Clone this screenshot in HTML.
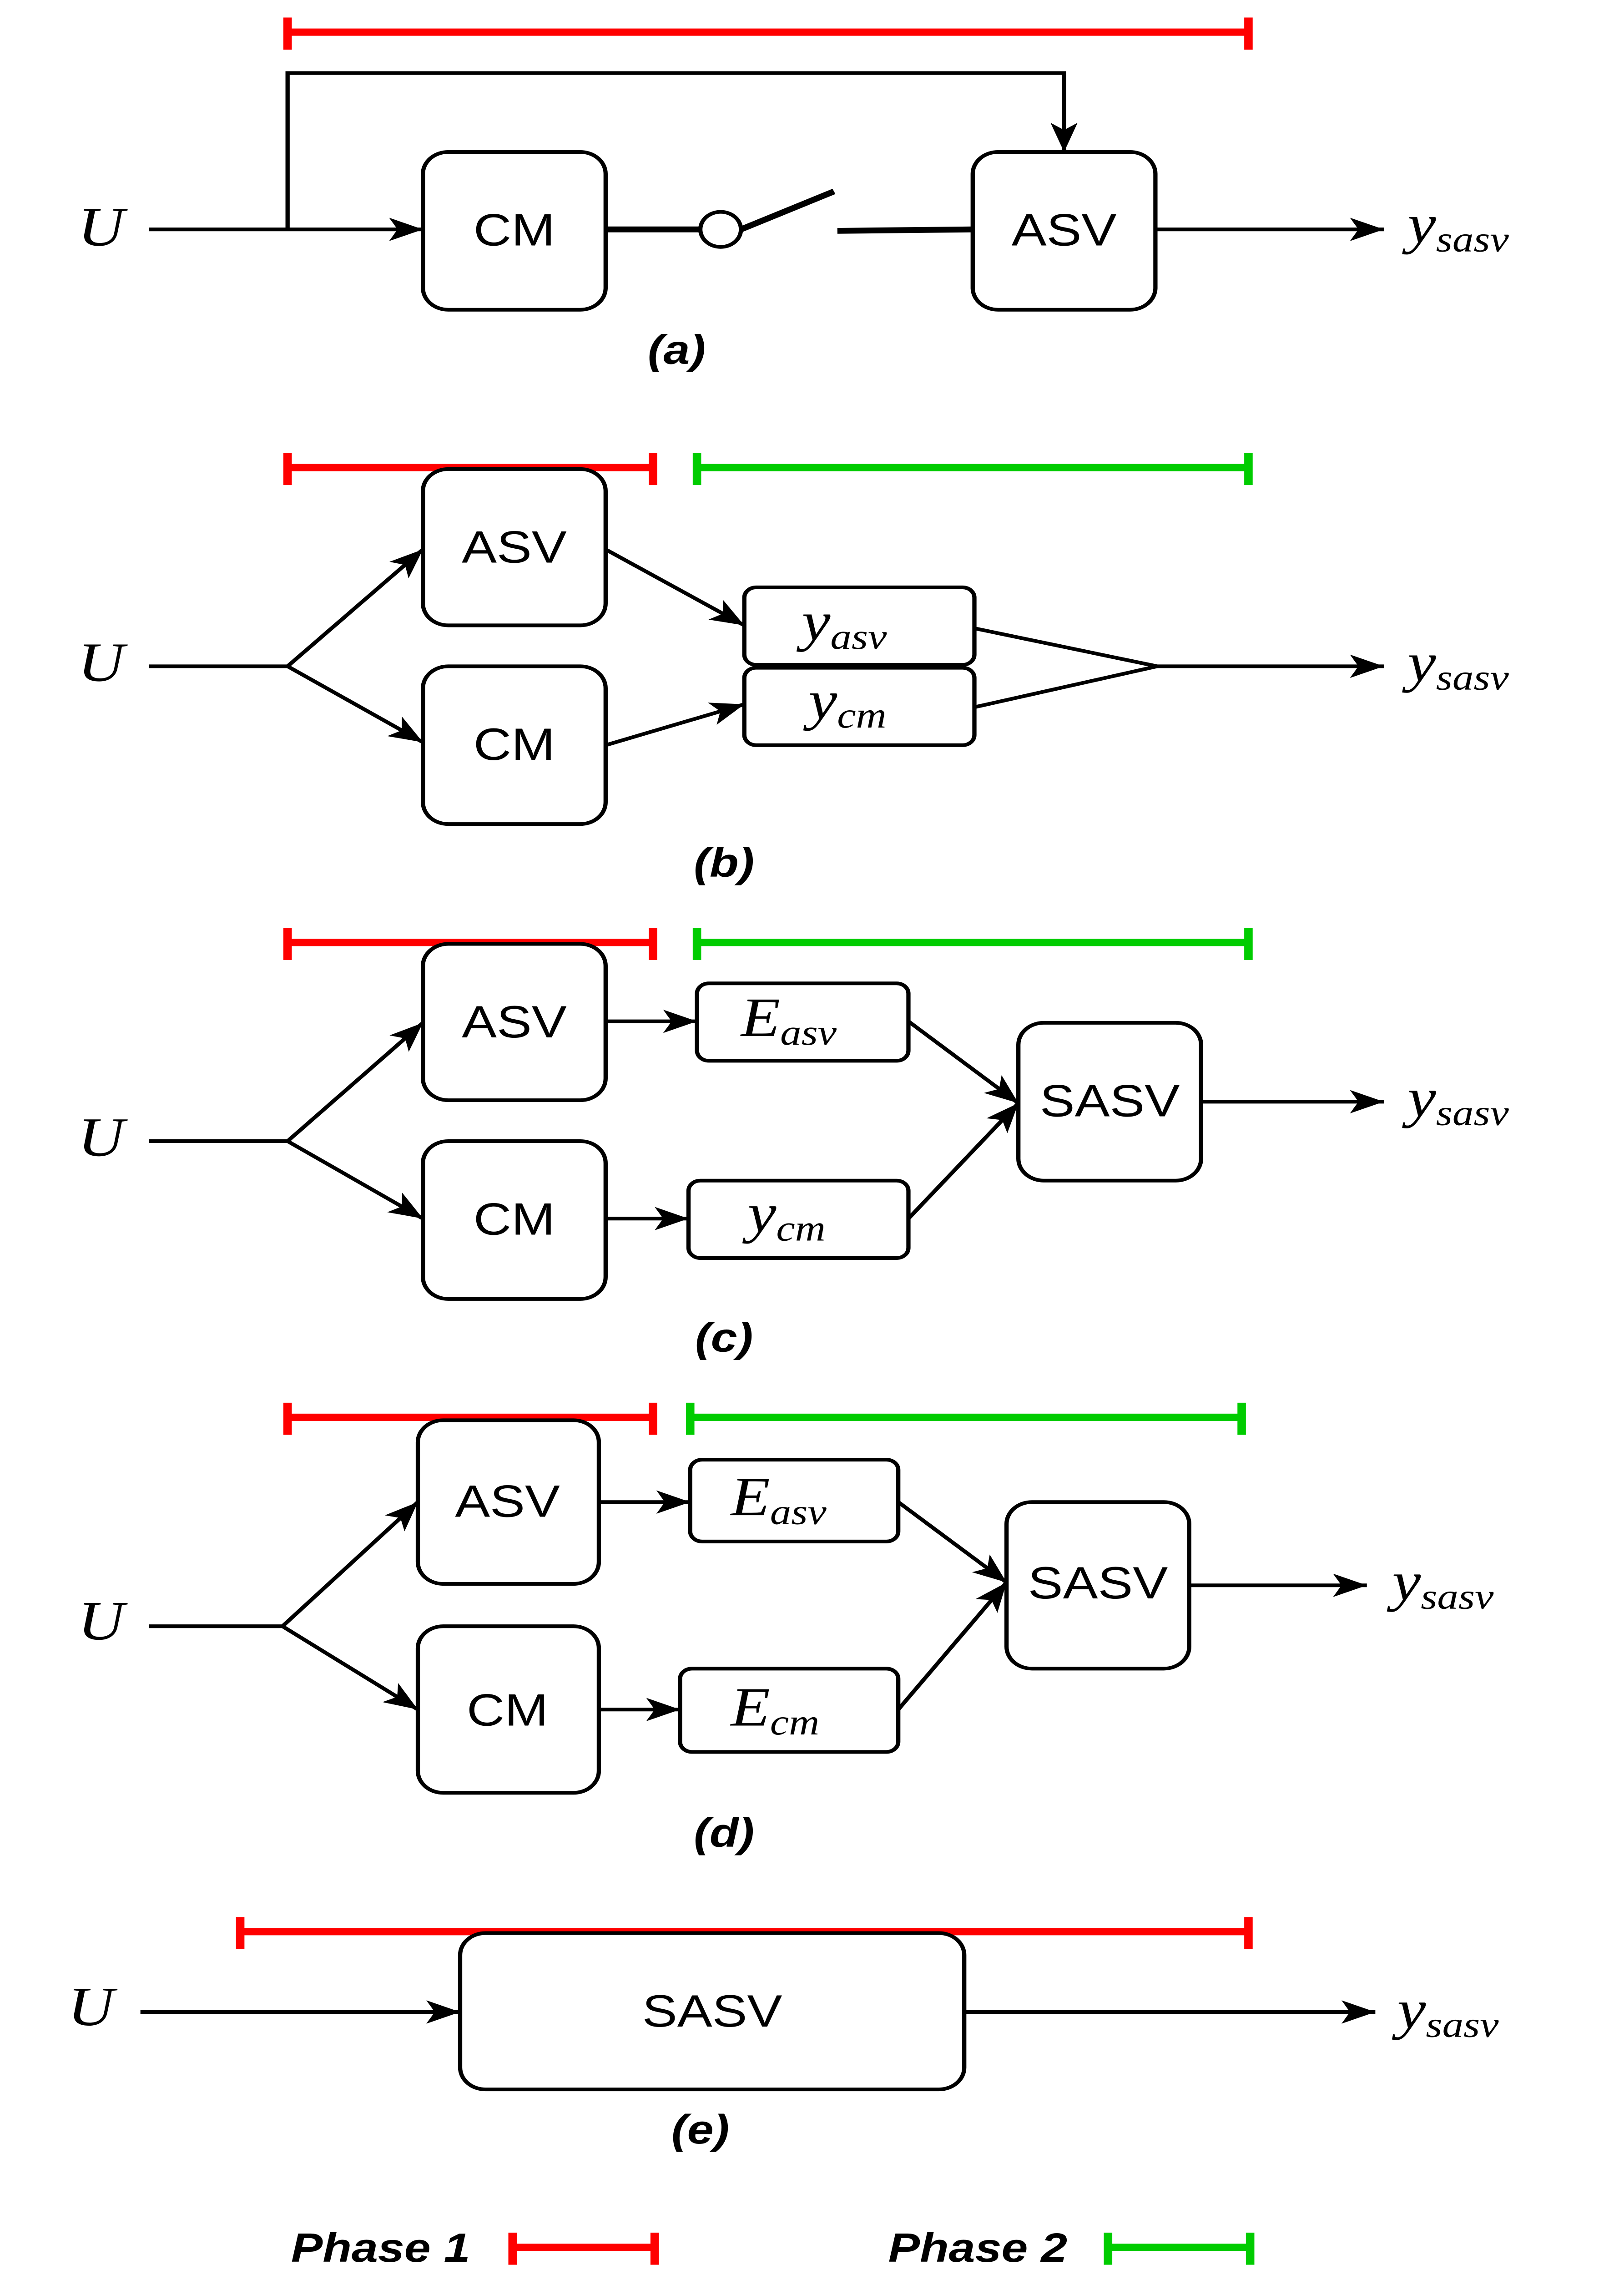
<!DOCTYPE html>
<html><head><meta charset="utf-8"><style>
html,body{margin:0;padding:0;background:#fff;width:100%;height:100%;overflow:hidden;}
svg{display:block;position:fixed;left:0;top:0;width:100vw;height:100vh;}
.b{fill:#fff;stroke:#000;stroke-width:2.5;}
.l{stroke:#000;stroke-width:2.5;fill:none;}
.lb{font-family:"Liberation Sans",sans-serif;font-size:31px;text-anchor:middle;}
.m{font-family:"Liberation Serif",serif;font-style:italic;font-size:38px;}
.s{font-size:25px;}
.cap{font-family:"Liberation Sans",sans-serif;font-size:28px;font-weight:bold;font-style:italic;text-anchor:middle;}
.r{stroke:#f00;stroke-width:5;fill:none;}
.g{stroke:#00cc00;stroke-width:5;fill:none;}
</style></head><body>
<svg viewBox="0 0 960 1557" preserveAspectRatio="none" xmlns="http://www.w3.org/2000/svg">
<defs>
<marker id="a" viewBox="0 0 20 16" refX="20" refY="8" markerWidth="20" markerHeight="16" markerUnits="userSpaceOnUse" orient="auto">
<path d="M0,0 L20,8 L0,16 L5,8 Z" fill="#000"/></marker>
</defs>
<rect width="960" height="1557" fill="#fff"/>

<!-- (a) -->
<path class="r" d="M170,22 H738 M170,12 V34 M738,12 V34"/>
<path class="l" d="M88,157 H250" marker-end="url(#a)"/>
<path class="l" d="M170,157 V50 H629 V104" marker-end="url(#a)"/>
<rect class="b" x="250" y="104" width="108" height="108" rx="15"/>
<text class="lb" x="304" y="168">CM</text>
<path d="M358,157 H414" stroke="#000" stroke-width="4"/>
<circle cx="426" cy="157" r="12" class="b"/>
<path d="M438,157 L493,131" stroke="#000" stroke-width="4"/>
<path d="M495,158 L575,157" stroke="#000" stroke-width="4"/>
<rect class="b" x="575" y="104" width="108" height="108" rx="15"/>
<text class="lb" x="629" y="168">ASV</text>
<path class="l" d="M683,157 H818" marker-end="url(#a)"/>
<text class="m" x="46" y="168">U</text>
<text class="m" x="832" y="166">y<tspan class="s" dy="6">sasv</tspan></text>
<text class="cap" x="400" y="249">(a)</text>

<!-- (b) -->
<path class="r" d="M170,320 H386 M170,310 V332 M386,310 V332"/>
<path class="g" d="M412,320 H738 M412,310 V332 M738,310 V332"/>
<path class="l" d="M88,456 H170 L250,376" marker-end="url(#a)"/>
<path class="l" d="M170,456 L250,508" marker-end="url(#a)"/>
<rect class="b" x="250" y="321" width="108" height="107" rx="15"/>
<text class="lb" x="304" y="385">ASV</text>
<rect class="b" x="250" y="456" width="108" height="108" rx="15"/>
<text class="lb" x="304" y="520">CM</text>
<path class="l" d="M358,376 L440,428" marker-end="url(#a)"/>
<path class="l" d="M358,510 L440,482" marker-end="url(#a)"/>
<rect class="b" x="440" y="402" width="136" height="53" rx="7"/>
<rect class="b" x="440" y="457" width="136" height="53" rx="7"/>
<text class="m" x="474" y="438">y<tspan class="s" dy="6">asv</tspan></text>
<text class="m" x="478" y="492">y<tspan class="s" dy="6">cm</tspan></text>
<path class="l" d="M576,430 L684,456 L576,484"/>
<path class="l" d="M684,456 H818" marker-end="url(#a)"/>
<text class="m" x="46" y="466">U</text>
<text class="m" x="832" y="466">y<tspan class="s" dy="6">sasv</tspan></text>
<text class="cap" x="428" y="600">(b)</text>

<!-- (c) -->
<path class="r" d="M170,645 H386 M170,635 V657 M386,635 V657"/>
<path class="g" d="M412,645 H738 M412,635 V657 M738,635 V657"/>
<path class="l" d="M88,781 H170 L250,700" marker-end="url(#a)"/>
<path class="l" d="M170,781 L250,834" marker-end="url(#a)"/>
<rect class="b" x="250" y="646" width="108" height="107" rx="15"/>
<text class="lb" x="304" y="710">ASV</text>
<rect class="b" x="250" y="781" width="108" height="108" rx="15"/>
<text class="lb" x="304" y="845">CM</text>
<path class="l" d="M358,699 H412" marker-end="url(#a)"/>
<path class="l" d="M358,834 H407" marker-end="url(#a)"/>
<rect class="b" x="412" y="673" width="125" height="53" rx="7"/>
<rect class="b" x="407" y="808" width="130" height="53" rx="7"/>
<text class="m" x="438" y="709">E<tspan class="s" dy="6">asv</tspan></text>
<text class="m" x="442" y="843">y<tspan class="s" dy="6">cm</tspan></text>
<path class="l" d="M537,699 L602,755" marker-end="url(#a)"/>
<path class="l" d="M537,834 L602,755" marker-end="url(#a)"/>
<rect class="b" x="602" y="700" width="108" height="108" rx="15"/>
<text class="lb" x="656" y="764">SASV</text>
<path class="l" d="M710,754 H818" marker-end="url(#a)"/>
<text class="m" x="46" y="791">U</text>
<text class="m" x="832" y="764">y<tspan class="s" dy="6">sasv</tspan></text>
<text class="cap" x="428" y="925">(c)</text>

<!-- (d) -->
<path class="r" d="M170,970 H386 M170,960 V982 M386,960 V982"/>
<path class="g" d="M408,970 H734 M408,960 V982 M734,960 V982"/>
<path class="l" d="M88,1113 H167 L247,1028" marker-end="url(#a)"/>
<path class="l" d="M167,1113 L247,1170" marker-end="url(#a)"/>
<rect class="b" x="247" y="972" width="107" height="112" rx="15"/>
<text class="lb" x="300" y="1038">ASV</text>
<rect class="b" x="247" y="1113" width="107" height="114" rx="15"/>
<text class="lb" x="300" y="1181">CM</text>
<path class="l" d="M354,1028 H408" marker-end="url(#a)"/>
<path class="l" d="M354,1170 H402" marker-end="url(#a)"/>
<rect class="b" x="408" y="999" width="123" height="56" rx="7"/>
<rect class="b" x="402" y="1142" width="129" height="57" rx="7"/>
<text class="m" x="432" y="1037">E<tspan class="s" dy="6">asv</tspan></text>
<text class="m" x="432" y="1181">E<tspan class="s" dy="6">cm</tspan></text>
<path class="l" d="M531,1028 L595,1083" marker-end="url(#a)"/>
<path class="l" d="M531,1170 L595,1083" marker-end="url(#a)"/>
<rect class="b" x="595" y="1028" width="108" height="114" rx="15"/>
<text class="lb" x="649" y="1094">SASV</text>
<path class="l" d="M703,1085 H808" marker-end="url(#a)"/>
<text class="m" x="46" y="1122">U</text>
<text class="m" x="823" y="1095">y<tspan class="s" dy="6">sasv</tspan></text>
<text class="cap" x="428" y="1264">(d)</text>

<!-- (e) -->
<path class="r" d="M142,1322 H738 M142,1312 V1334 M738,1312 V1334"/>
<path class="l" d="M83,1377 H272" marker-end="url(#a)"/>
<rect class="b" x="272" y="1323" width="298" height="107" rx="15"/>
<text class="lb" x="421" y="1387">SASV</text>
<path class="l" d="M570,1377 H813" marker-end="url(#a)"/>
<text class="m" x="40" y="1386">U</text>
<text class="m" x="826" y="1388">y<tspan class="s" dy="6">sasv</tspan></text>
<text class="cap" x="414" y="1467">(e)</text>

<!-- legend -->
<text class="cap" x="225" y="1548">Phase 1</text>
<path class="r" d="M303,1538 H387 M303,1528 V1550 M387,1528 V1550"/>
<text class="cap" x="578" y="1548">Phase 2</text>
<path class="g" d="M655,1538 H739 M655,1528 V1550 M739,1528 V1550"/>
</svg>
</body></html>
